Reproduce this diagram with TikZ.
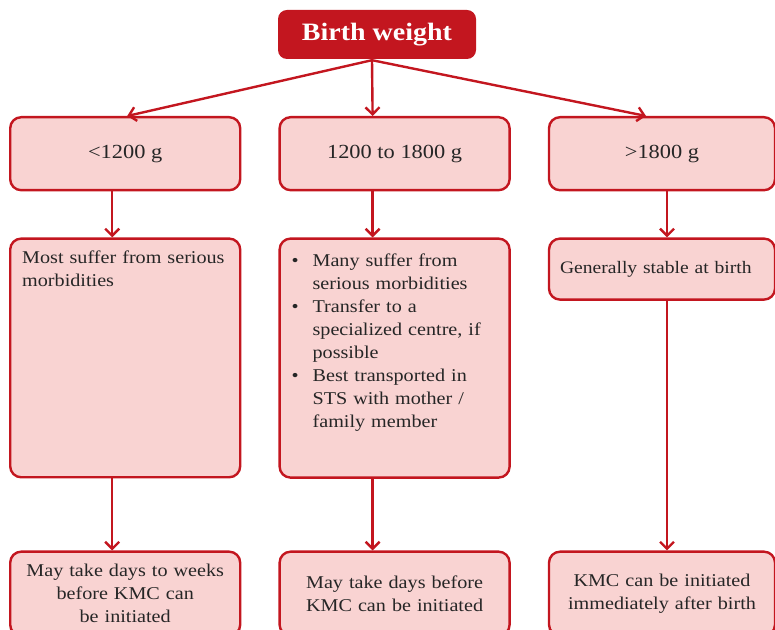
\documentclass[tikz,border=0pt]{standalone}
\usepackage{fontspec}
\setmainfont{Liberation Serif}[FakeStretch=1.12]
\usepackage{enumitem}
\usetikzlibrary{positioning,arrows.meta}
\definecolor{bwred}{HTML}{C3161F}
\definecolor{bwpink}{HTML}{F9D3D2}

\begin{document}
\begin{tikzpicture}[
  font=\fontsize{18}{23}\selectfont,
  box/.style={draw=bwred, fill=bwpink, text=black!85, line width=2.4pt, rounded corners=11pt, minimum width=230pt},
  head/.style={box, minimum height=73pt, font=\fontsize{20}{24}\selectfont},
  tall/.style={box, align=left, text width=206pt, inner xsep=12pt, inner ysep=12pt, text depth=#1},
  mid/.style={box, align=left, text width=204pt, minimum height=61pt, inner xsep=11pt, font=\fontsize{17.5}{23}\selectfont},
  foot/.style={box, align=center, text width=206pt, minimum height=84pt},
  title/.style={fill=bwred, text=white, rounded corners=9pt, minimum width=198pt, minimum height=49pt, font=\fontsize{25}{29}\selectfont\bfseries},
  >={Straight Barb[length=7pt,width=14pt]}, line width=2.4pt]
  \useasboundingbox (0,0) rectangle (775pt,629pt);
  \node[title] (bw) at (377pt,594.5pt) {Birth weight};
  % weight classes
  \node[head, anchor=north west] (r1a) at (9pt,513pt) {<1200 g};
  \node[head, right=37pt of r1a] (r1b) {1200 to 1800 g};
  \node[head, right=37pt of r1b, minimum width=226pt] (r1c) {>1800 g};
  % condition at birth
  \node[tall=202pt, below=46pt of r1a] (r2a) {Most suffer from serious\\morbidities};
  \node[tall=229pt, inner ysep=5pt, below=46pt of r1b] (r2b) {%
    \begin{itemize}[nosep, leftmargin=21pt, labelsep=14pt, label=\textbullet]
      \item Many suffer from\newline serious morbidities
      \item Transfer to a\newline specialized centre, if\newline possible
      \item Best transported in\newline STS with mother /\newline family member
    \end{itemize}};
  \node[mid, below=46pt of r1c, minimum width=226pt] (r2c) {Generally stable at birth};
  % start of KMC
  \node[foot, below=72pt of r2a] (r3a) {May take days to weeks\\before KMC can\\be initiated};
  \node[foot, right=37pt of r3a] (r3b) {May take days before\\KMC can be initiated};
  \node[foot, right=37pt of r3b, minimum width=226pt] (r3c) {KMC can be initiated\\immediately after birth};
  \draw[->, bwred] ([xshift=-5pt]bw.south) -- ([xshift=2pt]r1a.north);
  \draw[->, bwred] ([xshift=-5pt]bw.south) -- ([xshift=-22pt]r1b.north);
  \draw[->, bwred] ([xshift=-5pt]bw.south) -- ([xshift=-16pt]r1c.north);
  \draw[->, bwred] ([xshift=-13pt]r1a.south) -- ([xshift=-13pt]r2a.north);
  \draw[->, bwred] ([xshift=-22pt]r1b.south) -- ([xshift=-22pt]r2b.north);
  \draw[->, bwred] ([xshift=5pt]r1c.south) -- ([xshift=5pt]r2c.north);
  \draw[->, bwred] ([xshift=-13pt]r2a.south) -- ([xshift=-13pt]r3a.north);
  \draw[->, bwred] ([xshift=-22pt]r2b.south) -- ([xshift=-22pt]r3b.north);
  \draw[->, bwred] ([xshift=5pt]r2c.south) -- ([xshift=5pt]r3c.north);
\end{tikzpicture}
\end{document}
